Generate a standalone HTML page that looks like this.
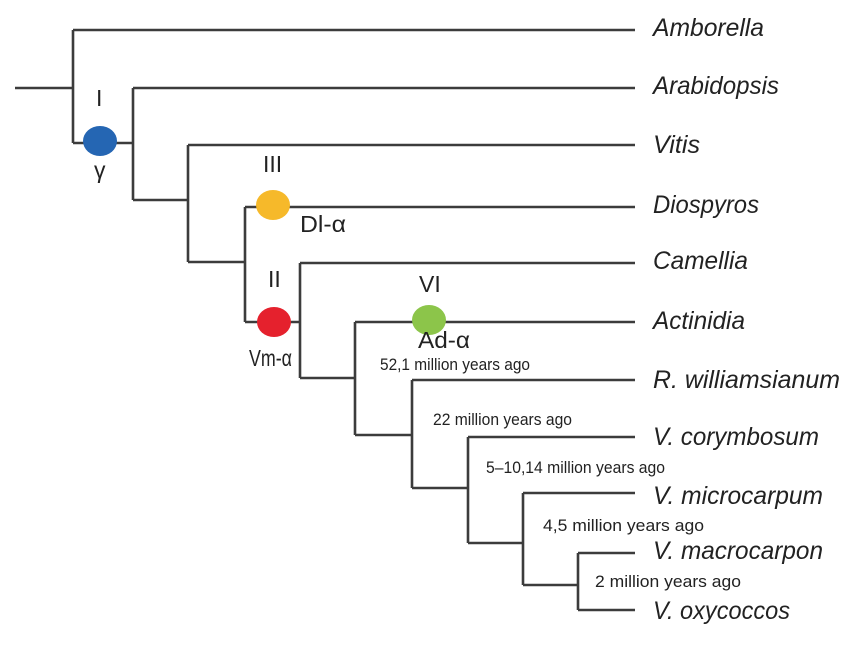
<!DOCTYPE html>
<html><head><meta charset="utf-8"><style>
html,body{margin:0;padding:0;background:#fff;}
svg text{font-family:"Liberation Sans Narrow","Liberation Sans",sans-serif;fill:#222;}
</style></head><body>
<svg width="842" height="640" viewBox="0 0 842 640" xmlns="http://www.w3.org/2000/svg">
<g stroke="#3c3c3c" stroke-width="2.6" fill="none">
<path d="M15 88H73 M73 30V143 M73 30H635 M73 143H133 M133 88V200 M133 88H635 M133 200H188 M188 145V262 M188 145H635 M188 262H245 M245 207V322 M245 207H635 M245 322H300 M300 263V378 M300 263H635 M300 378H355 M355 322V435 M355 322H635 M355 435H412 M412 380V488 M412 380H635 M412 488H468 M468 437V543 M468 437H635 M468 543H523 M523 493V585 M523 493H635 M523 585H578 M578 553V610 M578 553H635 M578 610H635"/>
</g>
<ellipse cx="100" cy="141" rx="17" ry="15" fill="#2566b3"/>
<ellipse cx="273" cy="205" rx="17" ry="15" fill="#f6b92a"/>
<ellipse cx="274" cy="322" rx="17" ry="15" fill="#e5212d"/>
<ellipse cx="429" cy="320" rx="17" ry="15" fill="#8cc54a"/>
<g font-size="25" font-style="italic" lengthAdjust="spacingAndGlyphs">
<text x="653" y="36" textLength="111" lengthAdjust="spacingAndGlyphs">Amborella</text>
<text x="653" y="94" textLength="126" lengthAdjust="spacingAndGlyphs">Arabidopsis</text>
<text x="653" y="153" textLength="47" lengthAdjust="spacingAndGlyphs">Vitis</text>
<text x="653" y="213" textLength="106" lengthAdjust="spacingAndGlyphs">Diospyros</text>
<text x="653" y="269" textLength="95" lengthAdjust="spacingAndGlyphs">Camellia</text>
<text x="653" y="329" textLength="92" lengthAdjust="spacingAndGlyphs">Actinidia</text>
<text x="653" y="388" textLength="187" lengthAdjust="spacingAndGlyphs">R. williamsianum</text>
<text x="653" y="445" textLength="166" lengthAdjust="spacingAndGlyphs">V. corymbosum</text>
<text x="653" y="504" textLength="170" lengthAdjust="spacingAndGlyphs">V. microcarpum</text>
<text x="653" y="559" textLength="170" lengthAdjust="spacingAndGlyphs">V. macrocarpon</text>
<text x="653" y="619" textLength="137" lengthAdjust="spacingAndGlyphs">V. oxycoccos</text>
</g>
<g font-size="23">
<text x="96" y="106">I</text>
<text x="94" y="178">γ</text>
<text x="263" y="172">III</text>
<text x="300" y="232" textLength="46" lengthAdjust="spacingAndGlyphs">Dl-α</text>
<text x="268" y="287">II</text>
<text x="249" y="366" textLength="43" lengthAdjust="spacingAndGlyphs">Vm-α</text>
<text x="419" y="292">VI</text>
<text x="418" y="348" textLength="52" lengthAdjust="spacingAndGlyphs">Ad-α</text>
</g>
<g font-size="17">
<text x="380" y="370" textLength="150" lengthAdjust="spacingAndGlyphs">52,1 million years ago</text>
<text x="433" y="425" textLength="139" lengthAdjust="spacingAndGlyphs">22 million years ago</text>
<text x="486" y="473" textLength="179" lengthAdjust="spacingAndGlyphs">5–10,14 million years ago</text>
<text x="543" y="531" textLength="161" lengthAdjust="spacingAndGlyphs">4,5 million years ago</text>
<text x="595" y="587" textLength="146" lengthAdjust="spacingAndGlyphs">2 million years ago</text>
</g>
</svg>
</body></html>
